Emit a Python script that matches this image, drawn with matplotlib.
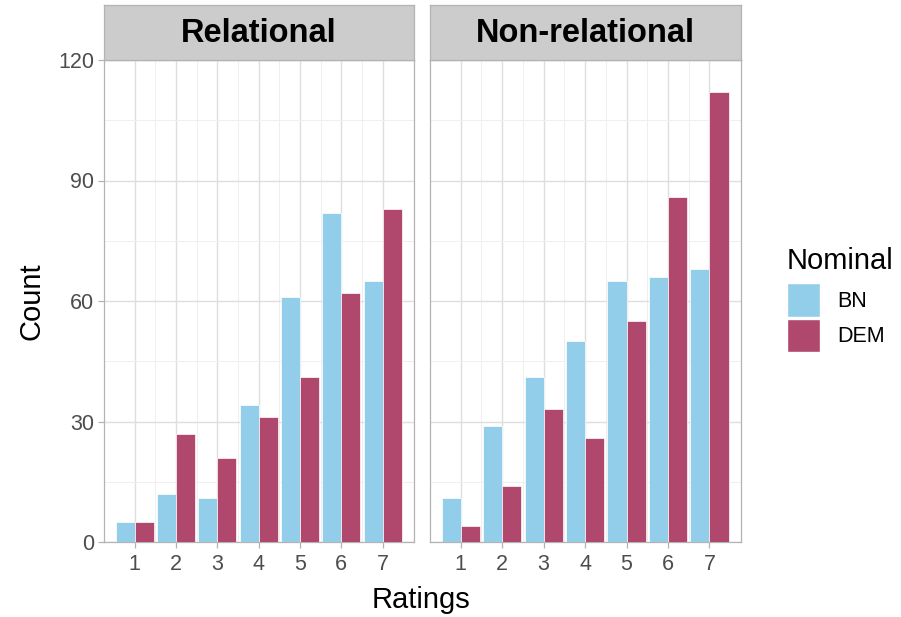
import numpy as np
import matplotlib
matplotlib.use("Agg")
import matplotlib.pyplot as plt
from matplotlib.patches import Patch

plt.rcParams["font.family"] = ["Liberation Sans", "DejaVu Sans"]

ratings = [1, 2, 3, 4, 5, 6, 7]
panels = ["Relational", "Non-relational"]
series = ["BN", "DEM"]
rel_bn = [5, 12, 11, 34, 61, 82, 65]
rel_dem = [5, 27, 21, 31, 41, 62, 83]
non_bn = [11, 29, 41, 50, 65, 66, 68]
non_dem = [4, 14, 33, 26, 55, 86, 112]
data = {"Relational": (rel_bn, rel_dem), "Non-relational": (non_bn, non_dem)}
colors = {"BN": "#92cee9", "DEM": "#b0476c"}
yticks = [0, 30, 60, 90, 120]

W, H = 901, 617
fig = plt.figure(figsize=(W / 100, H / 100), dpi=100)

def fx(px): return px / W
def fy(py): return 1 - py / H

panel_x = [(104, 414), (430, 741)]
top, bot, strip_top = 60, 542, 5
width = 0.46
x = np.array(ratings, dtype=float)

for i, (name, (x0, x1)) in enumerate(zip(panels, panel_x)):
    ax = fig.add_axes([fx(x0), fy(bot), fx(x1 - x0), fy(top) - fy(bot)])
    bn, dem = data[name]
    ax.bar(x - width / 2, bn, width, color=colors["BN"], edgecolor="white", linewidth=0.5, zorder=3)
    ax.bar(x + width / 2, dem, width, color=colors["DEM"], edgecolor="white", linewidth=0.5, zorder=3)
    ax.set_xlim(0.26, 7.76)
    ax.set_ylim(0, 120)
    ax.set_xticks(ratings)
    ax.set_xticks(np.arange(1.5, 7, 1), minor=True)
    ax.set_yticks(yticks)
    ax.set_yticks([15, 45, 75, 105], minor=True)
    ax.grid(which="major", color="#dedede", linewidth=1.0, zorder=0)
    ax.grid(which="minor", color="#efefef", linewidth=0.7, zorder=0)
    ax.tick_params(which="minor", length=0)
    ax.tick_params(which="major", length=4, width=0.9, color="#b3b3b3", labelsize=15.5,
                   labelcolor="#4d4d4d", pad=3)
    ax.tick_params(axis="x", pad=5)
    if i == 0:
        ax.set_ylabel("Count", fontsize=21, labelpad=9)
    else:
        ax.tick_params(axis="y", length=0, labelleft=False)
    for s in ax.spines.values():
        s.set_color("#b3b3b3")
        s.set_linewidth(0.9)

    # facet strip
    sax = fig.add_axes([fx(x0), fy(top), fx(x1 - x0), fy(strip_top) - fy(top)])
    sax.set_facecolor("#cccccc")
    sax.set_xticks([])
    sax.set_yticks([])
    for s in sax.spines.values():
        s.set_color("#b3b3b3")
        s.set_linewidth(0.9)
    sax.text(0.5, 0.48, name, ha="center", va="center", fontsize=23.5,
             fontweight="bold", transform=sax.transAxes)

fig.text(fx(421), fy(600), "Ratings", ha="center", va="center", fontsize=21)

handles = [Patch(facecolor=colors[s], edgecolor="white") for s in series]
leg = fig.legend(handles, series, title="Nominal", loc="upper left",
                 bbox_to_anchor=(fx(772), fy(232)), frameon=False,
                 fontsize=15.5, title_fontsize=21, handlelength=1.55, handleheight=2.0,
                 handletextpad=0.8, labelspacing=0.1, borderpad=0.2)
leg._legend_box.align = "left"
leg._legend_box.sep = 6
for p in leg.get_patches():
    p.set_width(p.get_height())

fig.savefig("out.png", dpi=100)
